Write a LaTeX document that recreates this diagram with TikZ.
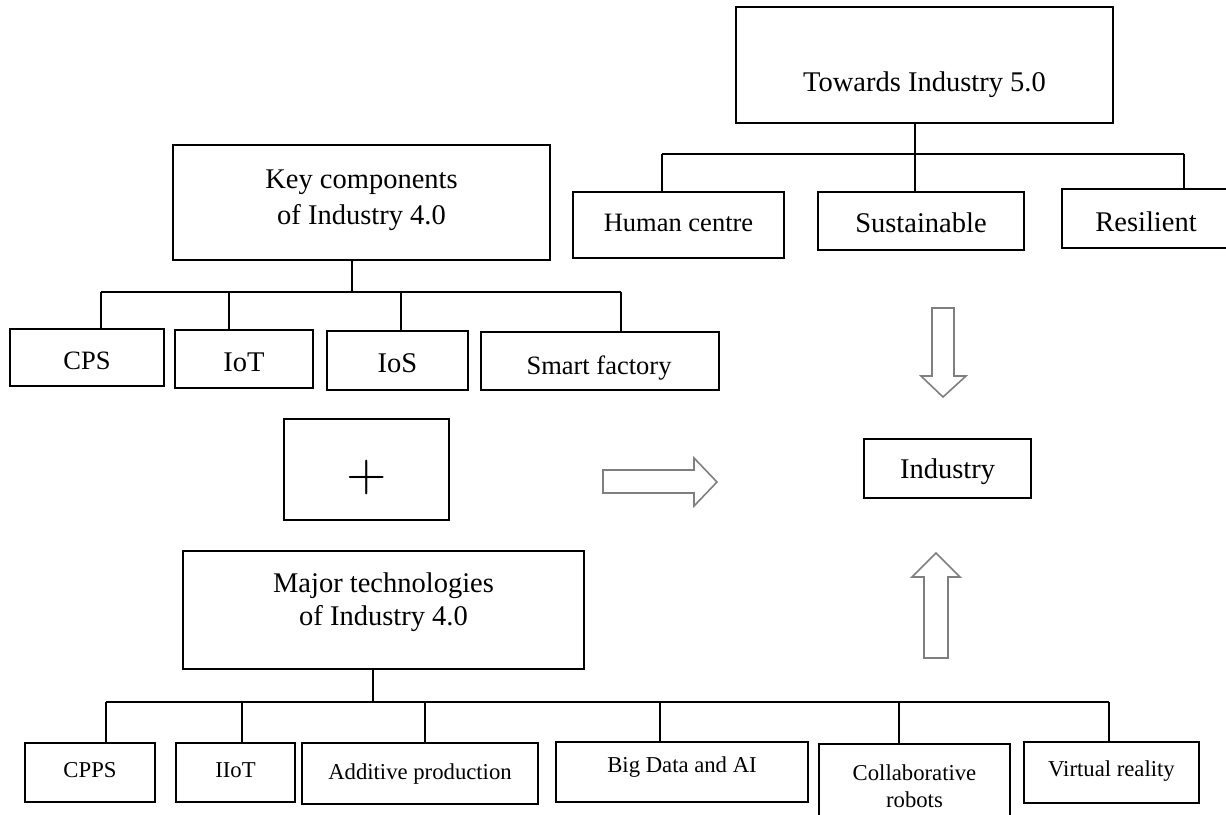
\documentclass[tikz,border=0pt]{standalone}
\usepackage{graphicx}
\usepackage{fontspec}
\setmainfont{Liberation Serif}
\definecolor{arrowgray}{HTML}{7F7F7F}
\begin{document}
\begin{tikzpicture}[x=1pt,y=-1pt,
  box/.style={draw=black, line width=1.2pt, inner sep=0pt, outer sep=0pt, anchor=north west},
  openbox/.style={inner sep=0pt, outer sep=0pt, anchor=north west},
  link/.style={draw=black, line width=1.1pt},
  lbl/.style={inner sep=0pt, anchor=base},
  big/.style={font=\fontsize{28.5}{33}\selectfont},
  mid/.style={font=\fontsize{26.5}{30}\selectfont},
  small/.style={font=\fontsize{22.7}{27}\selectfont},
  blockarrow/.style={draw=arrowgray, fill=white, line width=1.6pt, line join=miter}]
\useasboundingbox (0,0) rectangle (1226,814);
\fill[white] (0,0) rectangle (1226,814);

% ---- Towards Industry 5.0 tree
\node[box, minimum width=377pt, minimum height=116pt] (towards) at (736,7) {};
\node[lbl, big] (towards-t) at (924.5,91) {Towards Industry 5.0};
\node[box, minimum width=211pt, minimum height=66pt] (hc) at (573,192) {};
\node[lbl, mid] (hc-t) at (678.5,231) {Human centre};
\node[box, minimum width=206pt, minimum height=58pt] (sus) at (818,192) {};
\node[lbl, big] (sus-t) at (921,232) {Sustainable};
\node[openbox, minimum width=170pt, minimum height=59pt] (res) at (1062,189) {};
\draw[line width=1.2pt] (res.north east) -- (res.north west) -- (res.south west) -- (res.south east);
\node[lbl, big] (res-t) at (1146,231) {Resilient};

\coordinate (tb) at (915,154);
\coordinate (tbl) at (662,154);
\coordinate (tbr) at (1184,154);
\draw[link] (tb |- towards.south) -- (tb);
\draw[link] (tbl) -- (tbr);
\draw[link] (tbl) -- (tbl |- hc.north);
\draw[link] (tb) -- (tb |- sus.north);
\draw[link] (tbr) -- (tbr |- res.north);

% ---- Key components tree
\node[box, minimum width=377pt, minimum height=115pt] (key) at (173,145) {};
\node[align=center, inner sep=0pt, font=\fontsize{28.5}{36}\selectfont] (key-t) at (361.5,200) {Key components\\of Industry 4.0};
\node[box, minimum width=154pt, minimum height=57pt] (cps) at (10,329) {};
\node[lbl, mid] (cps-t) at (87,369) {CPS};
\node[box, minimum width=138pt, minimum height=58pt] (iot) at (175,330) {};
\node[lbl, big] (iot-t) at (244,371) {IoT};
\node[box, minimum width=141pt, minimum height=59pt] (ios) at (327,331) {};
\node[lbl, big] (ios-t) at (397.5,372) {IoS};
\node[box, minimum width=238pt, minimum height=58pt] (smart) at (481,332) {};
\node[lbl, mid] (smart-t) at (599,374) {Smart factory};

\coordinate (kb) at (352,292);
\coordinate (k1) at (101,292);
\coordinate (k2) at (229,292);
\coordinate (k3) at (401,292);
\coordinate (k4) at (621,292);
\draw[link] (kb |- key.south) -- (kb);
\draw[link] (k1) -- (k4);
\draw[link] (k1) -- (k1 |- cps.north);
\draw[link] (k2) -- (k2 |- iot.north);
\draw[link] (k3) -- (k3 |- ios.north);
\draw[link] (k4) -- (k4 |- smart.north);

% ---- plus
\node[box, minimum width=165pt, minimum height=101pt] (plus) at (284,419) {};
\node[inner sep=0pt] (plus-t) at (367,477) {\scalebox{5.2}{$+$}};

% ---- Industry
\node[box, minimum width=167pt, minimum height=59pt] (industry) at (864,439) {};
\node[lbl, big] (industry-t) at (947.5,478) {Industry};

% ---- block arrows
\draw[blockarrow] (603,470) -- (694,470) -- (694,458) -- (717,482) -- (694,506) -- (694,493) -- (603,493) -- cycle;
\draw[blockarrow] (932,308) -- (954,308) -- (954,376) -- (966,376) -- (943,397) -- (921,376) -- (932,376) -- cycle;
\draw[blockarrow] (924,658) -- (948,658) -- (948,577) -- (960,577) -- (936,553) -- (912,577) -- (924,577) -- cycle;

% ---- Major technologies tree
\node[box, minimum width=401pt, minimum height=118pt] (major) at (183,551) {};
\node[align=center, inner sep=0pt, font=\fontsize{28.5}{33}\selectfont] (major-t) at (383.5,602) {Major technologies\\of Industry 4.0};
\node[box, minimum width=130pt, minimum height=59pt] (cpps) at (25,743) {};
\node[lbl, small] (cpps-t) at (90,777) {CPPS};
\node[box, minimum width=119pt, minimum height=59pt] (iiot) at (176,743) {};
\node[lbl, small] (iiot-t) at (235.5,777) {IIoT};
\node[box, minimum width=236pt, minimum height=61pt] (add) at (302,743) {};
\node[lbl, small] (add-t) at (420,779) {Additive production};
\node[box, minimum width=252pt, minimum height=60pt] (bigd) at (556,742) {};
\node[lbl, small] (bigd-t) at (682,772) {Big Data and AI};
\node[openbox, minimum width=191pt, minimum height=72pt] (collab) at (819,744) {};
\draw[line width=1.2pt] (collab.south west) -- (collab.north west) -- (collab.north east) -- (collab.south east);
\node[small, align=center, inner sep=0pt] (collab-t) at (914.5,786) {Collaborative\\robots};
\node[box, minimum width=175pt, minimum height=61pt] (vr) at (1024,742) {};
\node[lbl, small] (vr-t) at (1111.5,776) {Virtual reality};

\coordinate (mb) at (373,702);
\coordinate (m1) at (106,702);
\coordinate (m2) at (242,702);
\coordinate (m3) at (425,702);
\coordinate (m4) at (660,702);
\coordinate (m5) at (899,702);
\coordinate (m6) at (1109,702);
\draw[link] (mb |- major.south) -- (mb);
\draw[link] (m1) -- (m6);
\draw[link] (m1) -- (m1 |- cpps.north);
\draw[link] (m2) -- (m2 |- iiot.north);
\draw[link] (m3) -- (m3 |- add.north);
\draw[link] (m4) -- (m4 |- bigd.north);
\draw[link] (m5) -- (m5 |- collab.north);
\draw[link] (m6) -- (m6 |- vr.north);
\end{tikzpicture}
\end{document}
